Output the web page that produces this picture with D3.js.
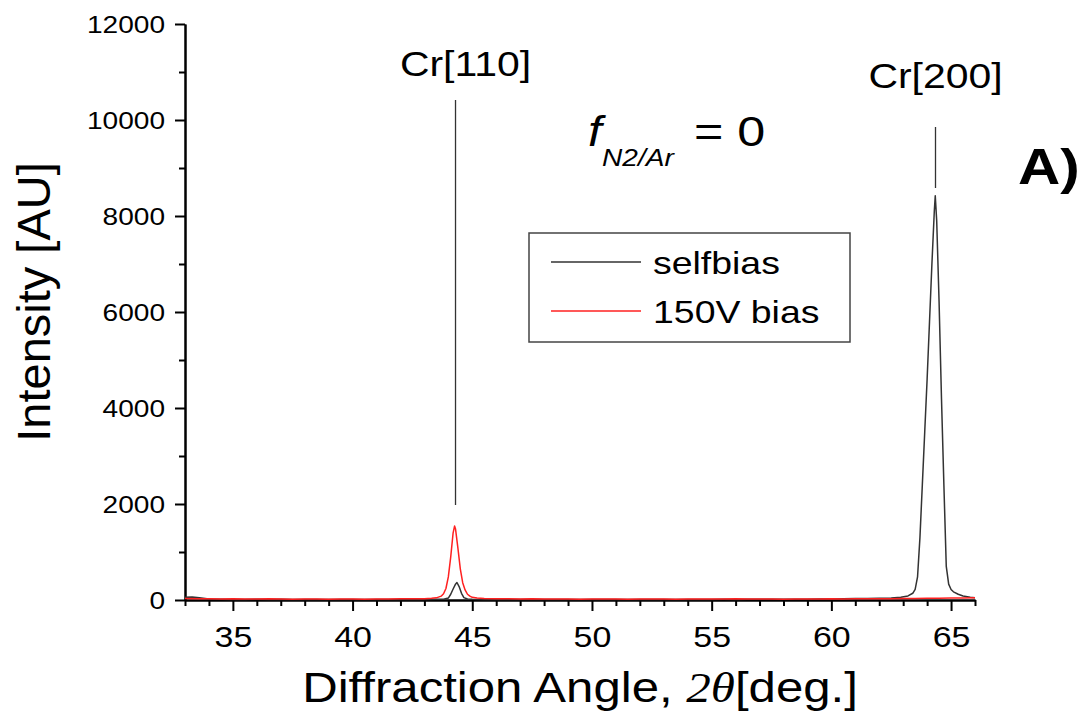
<!DOCTYPE html>
<html><head><meta charset="utf-8">
<script src="https://cdn.jsdelivr.net/npm/d3@7"></script>
<style>body{margin:0;background:#fff}svg{display:block}text{font-family:"Liberation Sans",Arial,sans-serif;fill:#000}</style>
</head><body><svg id="c" width="1091" height="719"></svg>
<script>
// ---- data ----
const selfbiasAngle = [33.0,33.3,33.6,34.0,34.5,35,35.5,36,36.5,37,37.5,38,38.5,39,39.5,40,40.5,41,41.5,42,42.5,43,43.5,43.8,44.0,44.1,44.2,44.3,44.36,44.45,44.55,44.65,44.8,45.0,45.5,46,46.5,47,47.5,48,48.5,49,49.5,50,50.5,51,51.5,52,52.5,53,53.5,54,54.5,55,55.5,56,56.5,57,57.5,58,58.5,59,59.5,60,60.5,61,61.5,62,62.5,62.9,63.2,63.4,63.5,63.6,63.7,63.8,63.9,64.0,64.1,64.2,64.3,64.34,64.4,64.5,64.6,64.7,64.8,64.9,65.0,65.1,65.3,65.5,65.8,66.0];
const selfbiasIntensity = [55,60,45,20,15,12,10,14,12,18,12,10,9,8,10,9,8,10,9,10,11,12,14,16,40,120,230,330,365,280,140,50,20,15,12,10,9,10,9,8,9,10,8,9,10,9,10,11,10,12,11,12,13,12,14,13,15,14,16,15,17,18,20,22,28,30,32,38,42,55,85,140,220,480,1300,2400,3500,4600,5800,7000,8100,8420,7900,6200,4200,2400,700,330,220,170,120,85,55,45];
const biasAngle = [33.0,33.5,34,34.5,35,35.5,36,36.5,37,37.5,38,38.5,39,39.5,40,40.5,41,41.5,42,42.5,43,43.3,43.5,43.7,43.8,43.9,44.0,44.1,44.2,44.26,44.3,44.4,44.5,44.6,44.7,44.8,44.9,45.0,45.2,45.5,46,46.5,47,47.5,48,48.5,49,49.5,50,50.5,51,51.5,52,52.5,53,53.5,54,54.5,55,55.5,56,56.5,57,57.5,58,58.5,59,59.5,60,60.5,61,61.5,62,62.5,63,63.5,64,64.5,65,65.5,66];
const biasIntensity = [30,28,25,22,24,20,22,25,20,18,22,20,18,22,20,18,20,22,24,25,28,35,45,80,130,240,480,900,1400,1540,1480,1080,650,360,210,120,80,55,40,32,28,25,22,24,20,22,20,18,20,22,20,18,20,22,20,18,20,22,20,22,24,20,22,20,18,20,22,20,24,22,25,24,26,28,30,32,35,38,40,42,45];
const seriesNames = ["selfbias","150V bias"];
const seriesColors = ["#333333","#ff2020"];
const xMajorTicks = [35,40,45,50,55,60,65];
const yMajorTicks = [0,2000,4000,6000,8000,10000,12000];
const peakLabels = ["Cr[110]","Cr[200]"];
const peakAngles = [44.3,64.35];

// ---- layout ----
const SX = 1.17;
const svg = d3.select("#c");
const x = d3.scaleLinear().domain([33,66]).range([185,975]);
const y = d3.scaleLinear().domain([0,12000]).range([600,24]);

// axes
const xMinor = d3.range(33,67,1).filter(v=>!xMajorTicks.includes(v));
const yMinor = d3.range(1000,12000,2000);
function styleAxis(g){g.selectAll("path").attr("stroke","#000").attr("stroke-width",2);
  g.selectAll("line").attr("stroke","#000").attr("stroke-width",2);}
svg.append("g").attr("transform","translate(0,600)")
  .call(d3.axisBottom(x).tickValues(xMinor).tickSize(6).tickFormat("").tickSizeOuter(0)).call(styleAxis);
const gx = svg.append("g").attr("transform","translate(0,600)")
  .call(d3.axisBottom(x).tickValues(xMajorTicks).tickSize(11).tickSizeOuter(0).tickFormat(d3.format("d"))).call(styleAxis);
gx.selectAll("text").attr("font-size",29).attr("transform",`scale(${SX},1)`).attr("dy","0.71em").attr("y",26)
  .style("font-family",'"Liberation Sans",Arial,sans-serif');
svg.append("g").attr("transform","translate(185,0)")
  .call(d3.axisLeft(y).tickValues(yMinor).tickSize(6).tickFormat("").tickSizeOuter(0)).call(styleAxis);
const gy = svg.append("g").attr("transform","translate(185,0)")
  .call(d3.axisLeft(y).tickValues(yMajorTicks).tickSize(10).tickSizeOuter(0).tickFormat(d3.format("d"))).call(styleAxis);
gy.selectAll("text").attr("font-size",24).attr("x",-20/SX).attr("dy","0.36em").attr("transform",`scale(${SX},1)`)
  .style("font-family",'"Liberation Sans",Arial,sans-serif');
svg.selectAll(".domain").attr("stroke","#000").attr("stroke-width",2);

// lines
const line = d3.line().x(d=>x(d[0])).y(d=>y(d[1]));
const series = [d3.zip(selfbiasAngle,selfbiasIntensity), d3.zip(biasAngle,biasIntensity)];
series.forEach((s,i)=>{
  svg.append("path").datum(s).attr("d",line).attr("fill","none")
    .attr("stroke",seriesColors[i]).attr("stroke-width",1.5).attr("stroke-linejoin","round");
});

// annotations
function stext(px,py,str,size,opts={}){
  const t = svg.append("text").attr("transform",`translate(${px},${py}) scale(${SX},1)`)
    .attr("font-size",size).attr("text-anchor",opts.anchor||"start");
  if(opts.italic) t.attr("font-style","italic");
  if(opts.bold) t.attr("font-weight","bold");
  t.text(str); return t;
}
const markerTop = [100,127], markerBot = [505,188], labelY=[76,88], labelDX=[10,0];
peakAngles.forEach((a,i)=>{
  svg.append("line").attr("x1",x(a)).attr("x2",x(a)).attr("y1",markerTop[i]).attr("y2",markerBot[i])
    .attr("stroke","#333").attr("stroke-width",1.3);
  stext(x(a)+labelDX[i],labelY[i],peakLabels[i],35,{anchor:"middle"});
});
stext(588,146,"f",42,{italic:true});
stext(602,166,"N2/Ar",24,{italic:true});
stext(694,146,"= 0",43);
stext(1018,184,"A)",50,{bold:true});

// legend
svg.append("rect").attr("x",529).attr("y",233).attr("width",321).attr("height",109)
  .attr("fill","#fff").attr("stroke","#444").attr("stroke-width",1.5);
seriesNames.forEach((n,i)=>{
  const ly = [262,311][i];
  svg.append("line").attr("x1",551).attr("x2",641).attr("y1",ly).attr("y2",ly)
    .attr("stroke",seriesColors[i]).attr("stroke-width",1.6);
  stext(653,ly+12,n,32);
});

// axis titles
svg.append("text").attr("transform",`translate(580,702) scale(${SX},1)`).attr("text-anchor","middle")
  .attr("font-size",42)
  .html('Diffraction Angle, <tspan font-style="italic" font-family="Liberation Serif, serif">2θ</tspan>[deg.]');
svg.append("text").attr("transform","translate(50,302) rotate(-90)").attr("text-anchor","middle")
  .attr("font-size",47).text("Intensity [AU]");
</script></body></html>
